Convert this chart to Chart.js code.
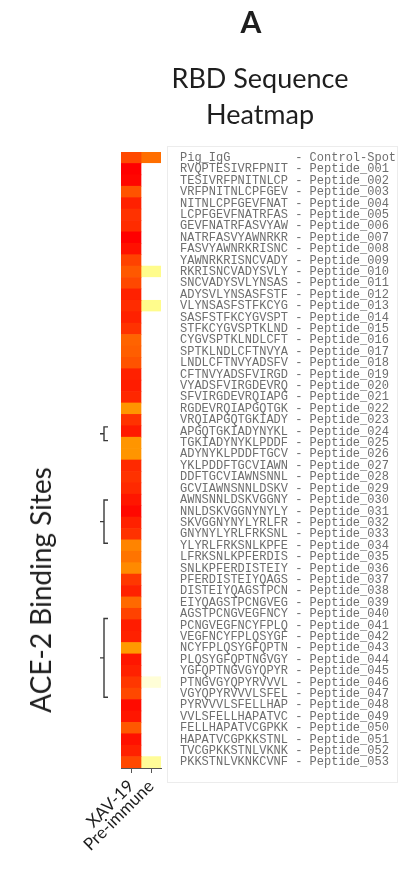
<!DOCTYPE html>
<html>
<head>
<meta charset="utf-8">
<script src="https://cdn.jsdelivr.net/npm/chart.js@4"></script>
<style>
  html, body { margin: 0; padding: 0; background: #fff; }
  #wrap { position: relative; width: 401px; height: 871px; }
  .t { position: absolute; font-family: Lato, sans-serif; color: #1e1e1e; white-space: nowrap; }
</style>
</head>
<body>
<div id="wrap">
  <canvas id="heat"></canvas>
  <div class="t" style="left:251px; top:3px; font-size:30px; font-weight:bold; transform:translateX(-50%);">A</div>
  <div class="t" style="left:260px; top:60px; font-size:27px; line-height:36px; text-align:center; transform:translateX(-50%);">RBD Sequence<br>Heatmap</div>
  <div class="t" style="left:40px; top:590px; font-size:28px; transform:translate(-50%,-50%) rotate(-90deg);">ACE-2 Binding Sites</div>
</div>
<script>
// columns of the heatmap
const columns = ['XAV-19', 'Pre-immune'];

// spot sequences, first row is the control spot
const sequences = ['Pig_IgG',
  'RVQPTESIVRFPNIT', 'TESIVRFPNITNLCP', 'VRFPNITNLCPFGEV', 'NITNLCPFGEVFNAT', 'LCPFGEVFNATRFAS',
  'GEVFNATRFASVYAW', 'NATRFASVYAWNRKR', 'FASVYAWNRKRISNC', 'YAWNRKRISNCVADY', 'RKRISNCVADYSVLY',
  'SNCVADYSVLYNSAS', 'ADYSVLYNSASFSTF', 'VLYNSASFSTFKCYG', 'SASFSTFKCYGVSPT', 'STFKCYGVSPTKLND',
  'CYGVSPTKLNDLCFT', 'SPTKLNDLCFTNVYA', 'LNDLCFTNVYADSFV', 'CFTNVYADSFVIRGD', 'VYADSFVIRGDEVRQ',
  'SFVIRGDEVRQIAPG', 'RGDEVRQIAPGQTGK', 'VRQIAPGQTGKIADY', 'APGQTGKIADYNYKL', 'TGKIADYNYKLPDDF',
  'ADYNYKLPDDFTGCV', 'YKLPDDFTGCVIAWN', 'DDFTGCVIAWNSNNL', 'GCVIAWNSNNLDSKV', 'AWNSNNLDSKVGGNY',
  'NNLDSKVGGNYNYLY', 'SKVGGNYNYLYRLFR', 'GNYNYLYRLFRKSNL', 'YLYRLFRKSNLKPFE', 'LFRKSNLKPFERDIS',
  'SNLKPFERDISTEIY', 'PFERDISTEIYQAGS', 'DISTEIYQAGSTPCN', 'EIYQAGSTPCNGVEG', 'AGSTPCNGVEGFNCY',
  'PCNGVEGFNCYFPLQ', 'VEGFNCYFPLQSYGF', 'NCYFPLQSYGFQPTN', 'PLQSYGFQPTNGVGY', 'YGFQPTNGVGYQPYR',
  'PTNGVGYQPYRVVVL', 'VGYQPYRVVVLSFEL', 'PYRVVVLSFELLHAP', 'VVLSFELLHAPATVC', 'FELLHAPATVCGPKK',
  'HAPATVCGPKKSTNL', 'TVCGPKKSTNLVKNK', 'PKKSTNLVKNKCVNF'];

const spotNames = sequences.map((s, i) => i === 0 ? 'Control-Spot' : 'Peptide_' + String(i).padStart(3, '0'));

// relative signal, 0 = none, 1 = strongest
const xav19 = [0.74,
  1.00, 0.98, 0.70, 0.88, 0.82, 0.84, 1.00, 0.94, 0.76, 0.68,
  0.74, 0.88, 0.84, 0.88, 0.82, 0.64, 0.66, 0.70, 0.88, 0.90,
  0.86, 0.46, 0.82, 0.91, 0.46, 0.46, 0.85, 0.82, 0.85, 0.92,
  0.97, 0.88, 0.82, 0.52, 0.58, 0.50, 0.80, 0.88, 0.62, 0.76,
  0.90, 0.88, 0.44, 0.92, 0.88, 0.80, 0.74, 0.96, 0.92, 0.68,
  0.94, 0.88, 0.74];
const preImmune = [0.60,
  0, 0, 0, 0, 0, 0, 0, 0, 0, 0.20,
  0, 0, 0.20, 0, 0, 0, 0, 0, 0, 0,
  0, 0, 0, 0, 0, 0, 0, 0, 0, 0,
  0, 0, 0, 0, 0, 0, 0, 0, 0, 0,
  0, 0, 0, 0, 0, 0.07, 0, 0, 0, 0,
  0, 0, 0.18];

// ACE-2 binding site brackets, in row units
const bindingSites = [[23.6, 24.8], [30.0, 33.8], [40.4, 47.3]];

const rowLabels = sequences.map((s, i) => s.padEnd(15) + ' - ' + spotNames[i]);

const stops = [[0, [255, 255, 255]], [0.2, [255, 252, 140]], [0.42, [255, 160, 0]], [1, [255, 0, 0]]];
function colorFor(v) {
  for (let i = 1; i < stops.length; i++) {
    if (v <= stops[i][0]) {
      const [a, ca] = stops[i - 1], [b, cb] = stops[i];
      const t = (v - a) / (b - a);
      const c = ca.map((x, k) => Math.round(x + (cb[k] - x) * t));
      return 'rgb(' + c.join(',') + ')';
    }
  }
  return 'rgb(255,0,0)';
}

const brackets = {
  id: 'brackets',
  afterDraw(chart) {
    const y = chart.scales.y, ctx = chart.ctx, area = chart.chartArea;
    ctx.save();
    ctx.strokeStyle = '#3a3a3a';
    ctx.lineWidth = 1.4;
    const x = area.left - 17;
    bindingSites.forEach(([a, b]) => {
      const top = y.getPixelForValue(a), bot = y.getPixelForValue(b), mid = (top + bot) / 2;
      ctx.beginPath();
      ctx.moveTo(x + 4, top); ctx.lineTo(x, top); ctx.lineTo(x, bot); ctx.lineTo(x + 4, bot);
      ctx.moveTo(x, mid); ctx.lineTo(x - 4, mid);
      ctx.stroke();
    });
    // faint frame round the labels
    ctx.strokeStyle = '#ececec';
    ctx.lineWidth = 1;
    ctx.strokeRect(area.right + 6.5, area.top - 5.5, 230, area.bottom - area.top + 20);
    ctx.restore();
  }
};

new Chart(document.getElementById('heat'), {
  type: 'bar',
  data: {
    labels: rowLabels,
    datasets: [
      { label: columns[0], data: xav19.map(() => 1), backgroundColor: xav19.map(colorFor) },
      { label: columns[1], data: preImmune.map(() => 1), backgroundColor: preImmune.map(colorFor) }
    ]
  },
  options: {
    indexAxis: 'y',
    responsive: true,
    maintainAspectRatio: false,
    animation: false,
    barPercentage: 1,
    categoryPercentage: 1,
    layout: { padding: { left: 121, top: 152, right: 0, bottom: 0 } },
    plugins: { legend: { display: false }, tooltip: { enabled: false } },
    scales: {
      x: {
        type: 'linear', min: 0, max: columns.length, stacked: true,
        afterBuildTicks: s => { s.ticks = columns.map((c, i) => ({ value: i + 0.5 })); },
        ticks: {
          callback: v => columns[Math.floor(v)],
          minRotation: 45, maxRotation: 45, padding: 3,
          font: { family: 'Lato', size: 17 }, color: '#1e1e1e'
        },
        grid: { display: true, drawOnChartArea: false, drawTicks: true, tickLength: 5, color: '#555' },
        border: { display: true, color: '#555' },
        afterFit: s => { s.height = 103; }
      },
      y: {
        position: 'right', stacked: true, offset: true,
        grid: { display: false, drawTicks: false },
        border: { display: false },
        ticks: { autoSkip: false, padding: 19, font: { family: 'Liberation Mono', size: 12 }, color: '#6e6e6e' },
        afterFit: s => { s.width = 240; }
      }
    }
  },
  plugins: [brackets]
});
</script>
</body>
</html>
